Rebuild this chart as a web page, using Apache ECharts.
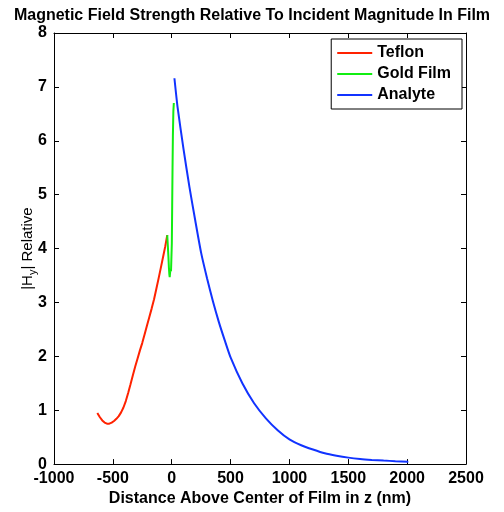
<!DOCTYPE html>
<html>
<head>
<meta charset="utf-8">
<script src="https://cdn.jsdelivr.net/npm/echarts@6/dist/echarts.min.js"></script>
<style>
  html, body { margin: 0; padding: 0; background: #fff; }
  #chart { width: 504px; height: 512px; }
</style>
</head>
<body>
<div id="chart"></div>
<script>
// Field magnitude |Hy| (relative to incident) vs. distance z (nm) in each layer
const teflonZ = [-632, -610, -590, -570, -550, -530, -510, -490, -470, -450, -430, -410, -390, -370, -350, -330, -310, -290, -270, -250, -230, -210, -190, -170, -150, -130, -110, -90, -70, -55, -38];
const teflonH = [0.95, 0.87, 0.81, 0.77, 0.75, 0.75, 0.77, 0.80, 0.84, 0.89, 0.96, 1.05, 1.17, 1.32, 1.48, 1.65, 1.81, 1.96, 2.11, 2.25, 2.41, 2.57, 2.73, 2.89, 3.06, 3.26, 3.46, 3.67, 3.88, 4.04, 4.25];

const goldZ = [-38, -33, -28, -24, -20, -17, -14, -10, -6, -2, 1, 4, 7, 10, 14, 18];
const goldH = [4.25, 4.05, 3.85, 3.65, 3.52, 3.47, 3.55, 3.62, 3.58, 3.60, 4.10, 4.80, 5.50, 6.10, 6.55, 6.70];

const analyteZ = [23, 50, 100, 150, 200, 250, 300, 350, 400, 450, 500, 600, 700, 800, 900, 1000, 1100, 1200, 1300, 1400, 1500, 1600, 1700, 1800, 1900, 2010];
const analyteH = [7.16, 6.62, 5.85, 5.15, 4.52, 3.92, 3.45, 3.02, 2.64, 2.30, 1.98, 1.50, 1.13, 0.85, 0.63, 0.46, 0.35, 0.27, 0.20, 0.155, 0.12, 0.095, 0.078, 0.065, 0.055, 0.045];

const xTicks = [-1000, 2500, 500];
const yTicks = [0, 8, 1];

const pairs = (xs, ys) => xs.map((x, i) => [x, ys[i]]);

const FONT = 'Liberation Sans';
const txt = { fontFamily: FONT, fontWeight: 'bold', fontSize: 16, color: '#000' };

const axisLine = { show: true, onZero: false, lineStyle: { color: '#000', width: 1 } };
const axisTick = { show: true, inside: true, length: 5, lineStyle: { color: '#000', width: 1 } };
const plain = v => String(v);

const chart = echarts.init(document.getElementById('chart'), null, { renderer: 'canvas' });

chart.setOption({
  animation: false,
  backgroundColor: '#fff',
  title: {
    text: 'Magnetic Field Strength Relative To Incident Magnitude In Film',
    left: 'center',
    top: 3,
    textStyle: Object.assign({}, txt)
  },
  legend: {
    orient: 'vertical',
    right: 42,
    top: 39,
    icon: 'rect',
    itemWidth: 35,
    itemHeight: 2,
    itemGap: 5,
    padding: [6, 11, 6, 6],
    borderColor: '#000',
    borderWidth: 1,
    backgroundColor: '#fff',
    textStyle: Object.assign({}, txt),
    data: ['Teflon', 'Gold Film', 'Analyte']
  },
  grid: { left: 54, right: 38, top: 33, bottom: 45, containLabel: false },
  xAxis: [
    {
      type: 'value',
      min: xTicks[0], max: xTicks[1], interval: xTicks[2],
      position: 'bottom',
      name: 'Distance Above Center of Film in z (nm)',
      nameLocation: 'middle',
      nameGap: 23,
      nameTextStyle: txt,
      axisLine, axisTick,
      axisLabel: Object.assign({ margin: 6, formatter: plain }, txt),
      splitLine: { show: false }
    },
    {
      type: 'value',
      min: xTicks[0], max: xTicks[1], interval: xTicks[2],
      position: 'top',
      axisLine, axisTick,
      axisLabel: { show: false },
      splitLine: { show: false }
    }
  ],
  yAxis: [
    {
      type: 'value',
      min: yTicks[0], max: yTicks[1], interval: yTicks[2],
      position: 'left',
      name: '{a||H}{s|y}{a|| Relative}',
      nameLocation: 'middle',
      nameGap: 16,
      nameMoveOverlap: false,
      nameRotate: 90,
      nameTextStyle: {
        rich: {
          a: { fontFamily: FONT, fontSize: 15, color: '#000' },
          s: { fontFamily: FONT, fontSize: 11, color: '#000', padding: [9, 0, 0, 0] }
        }
      },
      axisLine, axisTick,
      axisLabel: Object.assign({ margin: 7, formatter: plain }, txt),
      splitLine: { show: false }
    },
    {
      type: 'value',
      min: yTicks[0], max: yTicks[1], interval: yTicks[2],
      position: 'right',
      axisLine, axisTick,
      axisLabel: { show: false },
      splitLine: { show: false }
    }
  ],
  series: [
    {
      name: 'Teflon', type: 'line', xAxisIndex: 0, yAxisIndex: 0,
      data: pairs(teflonZ, teflonH), showSymbol: false, smooth: false,
      lineStyle: { color: '#ff2200', width: 2 }, itemStyle: { color: '#ff2200' }
    },
    {
      name: 'Gold Film', type: 'line', xAxisIndex: 0, yAxisIndex: 0,
      data: pairs(goldZ, goldH), showSymbol: false,
      lineStyle: { color: '#11ee11', width: 2 }, itemStyle: { color: '#11ee11' }
    },
    {
      name: 'Analyte', type: 'line', xAxisIndex: 0, yAxisIndex: 0,
      data: pairs(analyteZ, analyteH), showSymbol: false, smooth: 0.2,
      lineStyle: { color: '#1133ff', width: 2 }, itemStyle: { color: '#1133ff' }
    }
  ]
});
</script>
</body>
</html>
